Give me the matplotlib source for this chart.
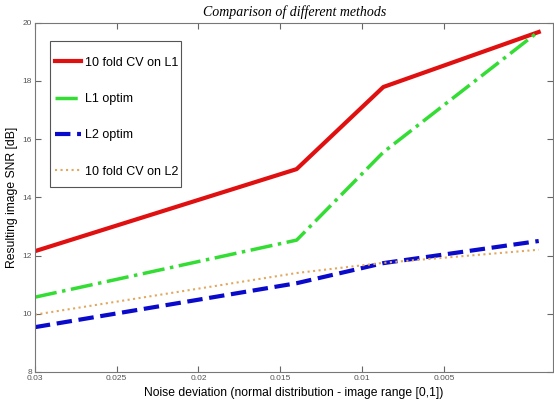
import matplotlib.pyplot as plt
from matplotlib.patches import Rectangle

# noise deviation (x) and resulting SNR for each method
noise = [0.03, 0.014, 0.0087, -0.0008]
cv_l1 = [12.15, 14.97, 17.79, 19.68]
l1_optim = [10.57, 12.53, 15.55, 19.70]
l2_optim = [9.54, 11.05, 11.74, 12.50]
cv_l2 = [9.97, 11.40, 11.75, 12.20]

x_ticks = [0.03, 0.025, 0.02, 0.015, 0.01, 0.005]
x_tick_labels = ['0.03', '0.025', '0.02', '0.015', '0.01', '0.005']
y_ticks = [8, 10, 12, 14, 16, 18, 20]

plt.rcParams['font.family'] = ['Liberation Sans', 'DejaVu Sans']

fig = plt.figure(figsize=(5.54, 4.05), dpi=100)
ax = fig.add_axes([0.063, 0.0815, 0.936, 0.8625])

ax.plot(noise, cv_l1, color='#e01010', lw=3, label='10 fold CV on L1')
ax.plot(noise, l1_optim, color='#33dd33', lw=2.5, linestyle='-.', label='L1 optim')
ax.plot(noise, l2_optim, color='#0a0acc', lw=3, linestyle='--', label='L2 optim')
ax.plot(noise, cv_l2, color='#e0a860', lw=1.5, linestyle=':', label='10 fold CV on L2')

ax.set_xlim(0.03, -0.0017)
ax.set_ylim(8, 20)
ax.set_xticks(x_ticks)
ax.set_xticklabels(x_tick_labels)
ax.set_yticks(y_ticks)
ax.tick_params(direction='in', length=4, labelsize=6, colors='#666666',
               top=True, right=True, pad=2)
for lab in ax.get_xticklabels() + ax.get_yticklabels():
    lab.set_color('#555555')
for s in ax.spines.values():
    s.set_color('#777777')
    s.set_linewidth(0.8)

ax.set_xlabel('Noise deviation (normal distribution - image range [0,1])', fontsize=8.7, labelpad=4)
ax.set_ylabel('Resulting image SNR [dB]', fontsize=8.7, labelpad=3)
ax.set_title('Comparison of different methods', fontsize=10, family='Liberation Serif',
             style='italic', pad=5)

# legend box drawn by hand so the padding matches the original
ax.add_patch(Rectangle((0.029, 0.530), 0.253, 0.418, transform=ax.transAxes,
                       facecolor='white', edgecolor='#555555', lw=0.8, zorder=4))
leg = ax.legend(loc='upper left', bbox_to_anchor=(0.038, 0.903), fontsize=9,
                labelspacing=1.95, handlelength=2.1, handletextpad=0.3,
                borderpad=0, frameon=False, borderaxespad=0)
leg.set_zorder(5)

plt.savefig('out.png', dpi=100)
plt.close()
